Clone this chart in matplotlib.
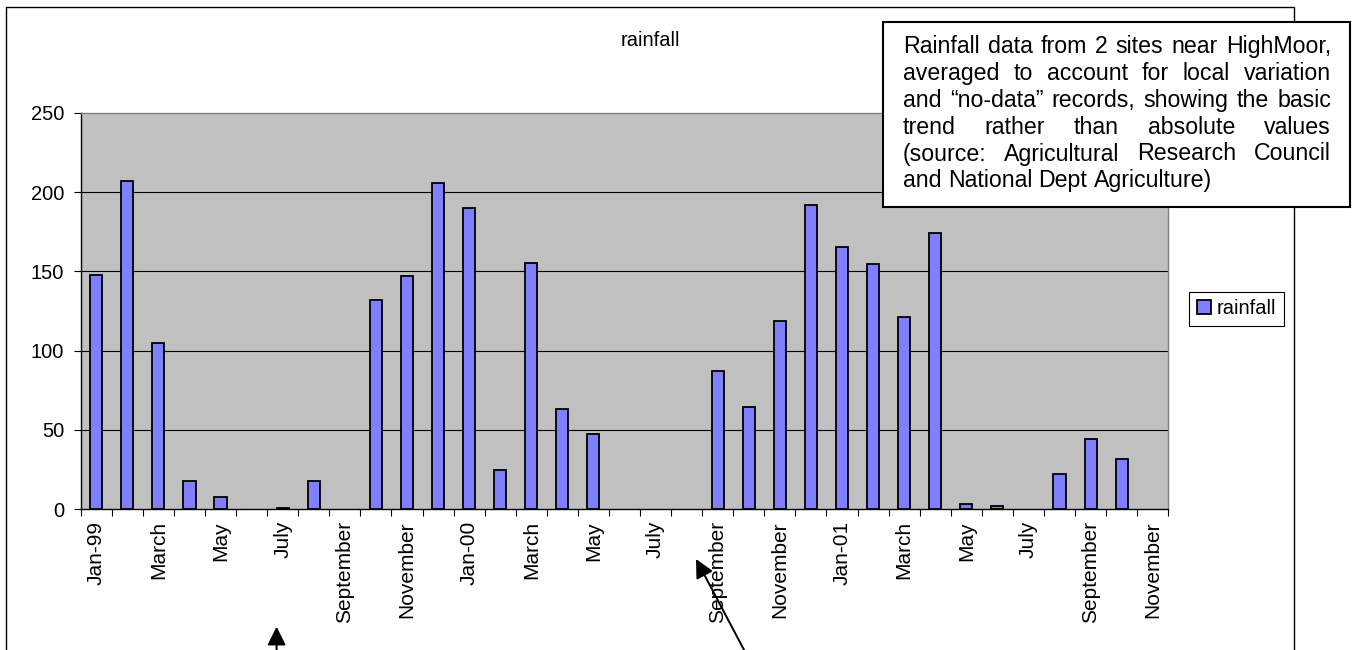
import numpy as np
import matplotlib
matplotlib.use("Agg")
import matplotlib.pyplot as plt
from matplotlib.patches import Rectangle, FancyArrowPatch

plt.rcParams["font.family"] = ["Liberation Sans", "DejaVu Sans"]

# Monthly rainfall, January 1999 to November 2001
categories = [
    "Jan-99", "February", "March", "April", "May", "June", "July", "August",
    "September", "October", "November", "December",
    "Jan-00", "February", "March", "April", "May", "June", "July", "August",
    "September", "October", "November", "December",
    "Jan-01", "February", "March", "April", "May", "June", "July", "August",
    "September", "October", "November",
]
rainfall = [
    148, 207, 105, 18, 8, 0, 1, 18, 0, 132, 147, 206,
    190, 25, 155.5, 63.5, 47.5, 0, 0, 0, 87, 64.5, 119, 192,
    165.5, 154.5, 121, 174, 3.4, 2.3, 0, 22, 44, 31.5, 0,
]
y_ticks = [0, 50, 100, 150, 200, 250]
series_name = "rainfall"
chart_title = "rainfall"
note_lines = [
    "Rainfall data from 2 sites near HighMoor,",
    "averaged to account for local variation",
    "and \u201cno-data\u201d records, showing the basic",
    "trend rather than absolute values",
    "(source: Agricultural Research Council",
    "and National Dept Agriculture)",
]

W, H = 1359, 650
fig = plt.figure(figsize=(W / 100, H / 100), dpi=100)
fig.patch.set_facecolor("white")


def fx(px):
    return px / W


def fy(py):
    return 1 - py / H


# plot area
ax = fig.add_axes([fx(80.7), fy(509.3), (1168.3 - 80.7) / W, (509.3 - 112.7) / H])
ax.set_facecolor("#C0C0C0")

x = np.arange(len(rainfall))
# months without rain get no outline, so nothing is drawn for them
edge_widths = [1.3 if v > 0 else 0 for v in rainfall]
bars = ax.bar(x, rainfall, width=0.39, color="#8080FF", edgecolor="black",
              linewidth=edge_widths, label=series_name, zorder=3)

ax.set_xlim(-0.5, len(rainfall) - 0.5)
ax.set_ylim(y_ticks[0], y_ticks[-1])
ax.set_yticks(y_ticks)
ax.hlines(y_ticks[1:-1], -0.5, len(rainfall) - 0.5, colors="black",
          linewidth=0.8, zorder=1)

# tick marks between categories, labels on every other month
ax.set_xticks(np.arange(-0.5, len(rainfall), 1.0))
ax.set_xticklabels([])
ax.set_xticks(x[::2], minor=True)
ax.set_xticklabels(categories[::2], minor=True, rotation=90)
ax.tick_params(axis="x", which="major", length=4.8, width=0.8, color="black",
               direction="out")
ax.tick_params(axis="x", which="minor", length=0, pad=8.5, labelsize=15)
ax.tick_params(axis="y", length=5, width=0.8, pad=7, labelsize=14.5)

for side in ("left", "bottom"):
    ax.spines[side].set_color("black")
    ax.spines[side].set_linewidth(1.0)
for side in ("top", "right"):
    ax.spines[side].set_color("#808080")
    ax.spines[side].set_linewidth(1.0)

# chart area border
frame = Rectangle((fx(6), fy(670)), (1294.3 - 6) / W, (670 - 7) / H,
                  transform=fig.transFigure, facecolor="none",
                  edgecolor="black", linewidth=1.0, zorder=1)
fig.add_artist(frame)

fig.text(fx(650), fy(46), chart_title, ha="center", va="baseline",
         fontsize=14.5)

leg = fig.legend(handles=[bars], labels=[series_name], loc="upper left",
                 bbox_to_anchor=(fx(1189.3), fy(291.7)),
                 bbox_transform=fig.transFigure, frameon=True, fancybox=False,
                 edgecolor="black", framealpha=1, borderaxespad=0,
                 fontsize=14.5, handlelength=0.7, handleheight=0.7,
                 handletextpad=0.3, borderpad=0.37)
leg.get_frame().set_linewidth(0.8)
for handle in leg.legend_handles:
    handle.set_linewidth(1.3)

# note box with justified text
box = Rectangle((fx(883), fy(207)), (1350 - 883) / W, (207 - 21.7) / H,
                transform=fig.transFigure, facecolor="white",
                edgecolor="black", linewidth=1.5, zorder=10)
fig.add_artist(box)

renderer = fig.canvas.get_renderer()
note_size = 16.7
probe_a = fig.text(0, 0, "a a", fontsize=note_size)
probe_b = fig.text(0, 0, "aa", fontsize=note_size)
space_w = (probe_a.get_window_extent(renderer).width
           - probe_b.get_window_extent(renderer).width)
probe_a.remove()
probe_b.remove()

left_px, right_px = 903.0, 1331.0
base0, step = 53.3, 26.8
for k, line in enumerate(note_lines):
    words = line.split(" ")
    texts = [fig.text(0, 0, w, fontsize=note_size, ha="left", va="baseline",
                      zorder=11) for w in words]
    widths = [t.get_window_extent(renderer).width for t in texts]
    if k < len(note_lines) - 1 and len(words) > 1:
        gap = (right_px - left_px - sum(widths)) / (len(words) - 1)
    else:
        gap = space_w
    pos = left_px
    for t, w in zip(texts, widths):
        t.set_position((fx(pos), fy(base0 + step * k)))
        pos += w + gap

# pointer arrows
arrow_style = "-|>,head_length=0.75,head_width=0.375"
for tail, tip in (((276.6, 670), (276.6, 626.7)), ((752, 665), (696, 559))):
    fig.add_artist(FancyArrowPatch((fx(tail[0]), fy(tail[1])),
                                   (fx(tip[0]), fy(tip[1])),
                                   transform=fig.transFigure,
                                   arrowstyle=arrow_style, mutation_scale=15,
                                   color="black", linewidth=1.4,
                                   shrinkA=0, shrinkB=0, zorder=12))

fig.savefig("out.png", dpi=100)
